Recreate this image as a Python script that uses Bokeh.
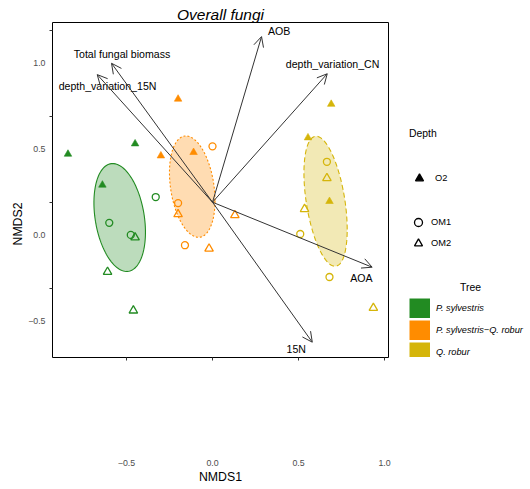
import numpy as np
import pandas as pd
from bokeh.plotting import figure
from bokeh.layouts import row
from bokeh.models import (ColumnDataSource, Range1d, LinearAxis, FixedTicker, Arrow,
                          OpenHead, Legend, LegendItem, Label, Title,
                          CustomLabelingPolicy)
from bokeh.core.properties import value
from bokeh.embed import file_html
from bokeh.resources import INLINE

FONT = "Liberation Sans"

# ---------------------------------------------------------------- data ----
TREES = ["P. sylvestris", "P. sylvestris\u2212Q. robur", "Q. robur"]
DEPTHS = ["O2", "OM1", "OM2"]

# NMDS site scores
tree = [TREES[0]] * 9 + [TREES[1]] * 9 + [TREES[2]] * 9
depth = (["O2"] * 3 + ["OM1"] * 3 + ["OM2"] * 3) * 3
nmds1 = [-0.84, -0.45, -0.64, -0.33, -0.60, -0.475, -0.45, -0.61, -0.46,
         -0.20, -0.30, -0.11, 0.00, -0.20, -0.16, -0.20, -0.02, 0.13,
         0.69, 0.555, 0.68, 0.665, 0.51, 0.68, 0.665, 0.535, 0.935]
nmds2 = [0.28, 0.34, 0.10, 0.03, -0.12, -0.19, -0.205, -0.405, -0.63,
         0.60, 0.27, 0.29, 0.325, -0.005, -0.25, -0.07, -0.27, -0.075,
         0.57, 0.375, 0.005, 0.235, -0.185, -0.435, 0.14, -0.04, -0.615]

# fitted environmental vectors (arrow tips) and where their names go
vec_names = ["AOB", "depth_variation_CN", "Total fungal biomass",
             "depth_variation_15N", "AOA", "15N"]
vec_x = [0.285, 0.667, -0.587, -0.670, 0.928, 0.580]
vec_y = [0.963, 0.747, 0.808, 0.742, -0.378, -0.814]
vec_label_x = [0.387, 0.698, -0.526, -0.610, 0.866, 0.487]
vec_label_y = [0.993, 0.805, 0.863, 0.674, -0.440, -0.856]

x_ticks = [-0.5, 0.0, 0.5, 1.0]
x_tick_labels = ["\u22120.5", "0.0", "0.5", "1.0"]
y_ticks = [-0.5, 0.0, 0.5, 1.0]
y_tick_labels = ["\u22120.5", "0.0", "0.5", "1.0"]

# --------------------------------------------------------------- style ----
tree_color = {TREES[0]: "#228B22", TREES[1]: "#FF8C00", TREES[2]: "#D5B50A"}
tree_dash = {TREES[0]: "solid", TREES[1]: "2 2", TREES[2]: "5 3"}
depth_marker = {"O2": "triangle", "OM1": "circle", "OM2": "triangle"}
depth_fill = {"O2": 1.0, "OM1": 0.0, "OM2": 0.0}
depth_size = {"O2": 7.5, "OM1": 7.0, "OM2": 8.5}
depth_lw = {"O2": 0.6, "OM1": 1.3, "OM2": 1.3}
ARROW_COLOR = "#333333"
AXIS_TEXT = "#4d4d4d"

PLOT_W, LEGEND_W, HEIGHT = 392, 138, 489
BORDER_TOP, BORDER_BOTTOM = 22, 132
X_RANGE = (-0.930, 1.023)
Y_RANGE = (-0.903, 1.045)
tick_label_drop = 0.188   # y tick labels are printed a little below their ticks

df = pd.DataFrame(dict(x=nmds1, y=nmds2, tree=tree, depth=depth))
df["color"] = df.tree.map(tree_color)
df["marker"] = df.depth.map(depth_marker)
df["fill_alpha"] = df.depth.map(depth_fill)
df["size"] = df.depth.map(depth_size)
df["lw"] = df.depth.map(depth_lw)

# ============================================================ ordination ====
p = figure(width=PLOT_W, height=HEIGHT,
           x_range=Range1d(*X_RANGE), y_range=Range1d(*Y_RANGE),
           output_backend="svg", toolbar_location=None,
           min_border_left=52, min_border_right=4,
           min_border_top=BORDER_TOP, min_border_bottom=BORDER_BOTTOM,
           background_fill_color="white", border_fill_color="white")
p.grid.visible = False
p.outline_line_color = "black"
p.outline_line_width = 1

p.title.text = "Overall fungi"
p.title.align = "center"
p.title.text_font = FONT
p.title.text_font_size = "15.5px"
p.title.text_font_style = "italic"
p.title.text_color = "black"
if "standoff" in Title.properties():
    p.title.standoff = 0

# x axis
xa = p.xaxis[0]
xa.ticker = FixedTicker(ticks=x_ticks)
xa.major_label_overrides = dict(zip(x_ticks, x_tick_labels))
xa.axis_line_color = None
xa.major_tick_out = 3
xa.major_tick_in = 0
xa.major_tick_line_color = "#333333"
xa.minor_tick_line_color = None
xa.major_label_standoff = 99
xa.major_label_text_font = FONT
xa.major_label_text_font_size = "8.8px"
xa.major_label_text_color = AXIS_TEXT
xa.axis_label = "NMDS1"
xa.axis_label_standoff = 1
xa.axis_label_text_font = FONT
xa.axis_label_text_font_size = "12.3px"
xa.axis_label_text_font_style = "normal"
xa.axis_label_text_color = "black"

# y axis: tick marks only, on the frame
ya = p.yaxis[0]
ya.ticker = FixedTicker(ticks=y_ticks)
ya.axis_line_color = None
ya.major_tick_out = 3
ya.major_tick_in = 0
ya.major_tick_line_color = "#333333"
ya.minor_tick_line_color = None
ya.major_label_text_font_size = "0px"
ya.major_label_standoff = 0
ya.major_label_policy = CustomLabelingPolicy(
    code="for (let i = 0; i < indices.size; i++) { indices.unset(i) }\nreturn indices")

# y axis: tick labels
p.extra_y_ranges = {"ticklabels": Range1d(Y_RANGE[0] + tick_label_drop,
                                          Y_RANGE[1] + tick_label_drop)}
ylab = LinearAxis(y_range_name="ticklabels", ticker=FixedTicker(ticks=y_ticks),
                  major_label_overrides=dict(zip(y_ticks, y_tick_labels)),
                  axis_line_color=None, major_tick_line_color=None,
                  minor_tick_line_color=None, major_tick_out=0, major_tick_in=0,
                  major_label_standoff=4, major_label_text_font=FONT,
                  major_label_text_font_size="8.8px",
                  major_label_text_color=AXIS_TEXT)
p.add_layout(ylab, "left")

ytitle_kw = dict(text="NMDS2", align="left", offset=112, text_font=FONT,
                 text_font_size="12.3px", text_font_style="normal",
                 text_color="black")
if "standoff" in Title.properties():
    ytitle_kw["standoff"] = 1
p.add_layout(Title(**ytitle_kw), "left")

# 1-SD covariance ellipses per tree type
theta = np.linspace(0, 2 * np.pi, 120)
circle = np.vstack([np.cos(theta), np.sin(theta)])
for t in TREES:
    pts = df.loc[df.tree == t, ["x", "y"]].to_numpy()
    centre = pts.mean(axis=0)
    chol = np.linalg.cholesky(np.cov(pts.T))
    ring = centre[:, None] + chol @ circle
    p.patch(ring[0], ring[1], fill_color=tree_color[t], fill_alpha=0.3,
            line_color=tree_color[t], line_width=1.1, line_dash=tree_dash[t])

# sites
p.scatter(x="x", y="y", marker="marker", size="size", line_color="color",
          fill_color="color", fill_alpha="fill_alpha", line_width="lw",
          source=ColumnDataSource(df))

# environmental vectors
vec_src = ColumnDataSource(dict(x0=[0.0] * len(vec_x), y0=[0.0] * len(vec_y),
                                x1=vec_x, y1=vec_y))
p.add_layout(Arrow(end=OpenHead(size=10, line_color=ARROW_COLOR, line_width=1),
                   source=vec_src, x_start="x0", y_start="y0",
                   x_end="x1", y_end="y1",
                   line_color=ARROW_COLOR, line_width=1))
p.text(x="x", y="y", text="name",
       source=ColumnDataSource(dict(x=vec_label_x, y=vec_label_y, name=vec_names)),
       text_font=value(FONT), text_font_size=value("10.6px"),
       text_color="black", text_align="center", text_baseline="middle")

# ================================================================ legend ====
# bare side panel; its frame lines up with the ordination frame, and its
# ranges count pixels (x from the panel's left edge, y up from the page bottom)
q = figure(width=LEGEND_W, height=HEIGHT, x_range=Range1d(0, LEGEND_W),
           y_range=Range1d(BORDER_BOTTOM, HEIGHT - BORDER_TOP),
           x_axis_type=None, y_axis_type=None,
           output_backend="svg", toolbar_location=None,
           min_border_left=0, min_border_right=0,
           min_border_top=BORDER_TOP, min_border_bottom=BORDER_BOTTOM,
           outline_line_color=None,
           background_fill_color="white", border_fill_color="white")
q.grid.visible = False

# key glyphs: one point each, parked outside the panel's ranges
OFF = -1000
depth_keys = {}
for d in DEPTHS:
    depth_keys[d] = q.scatter(x=[OFF], y=[OFF], marker=depth_marker[d],
                              fill_color="black", fill_alpha=depth_fill[d],
                              line_color="black", line_width=1.3)
# a thick butt-capped stroke fills the whole key box: a solid colour swatch
SWATCH_H = 20
tree_keys = {}
for t in TREES:
    tree_keys[t] = q.line(x=[OFF, OFF + 1], y=[OFF, OFF], line_color=tree_color[t],
                          line_width=SWATCH_H, line_cap="butt")

common = dict(border_line_color=None, background_fill_alpha=0, padding=0,
              margin=0, label_text_font=FONT, label_text_color="black",
              title_text_font=FONT, title_text_font_size="10.4px",
              title_text_font_style="normal", title_text_color="black")

leg_o2 = Legend(items=[LegendItem(label="O2", renderers=[depth_keys["O2"]])],
                title="Depth", title_standoff=29, location=(17, 169),
                glyph_width=20, glyph_height=20, label_height=20,
                label_standoff=6, label_text_font_size="9.3px", **common)
leg_om = Legend(items=[LegendItem(label=d, renderers=[depth_keys[d]]) for d in ["OM1", "OM2"]],
                location=(16, 104), spacing=1,
                glyph_width=20, glyph_height=20, label_height=20,
                label_standoff=3, label_text_font_size="9.3px", **common)
leg_tree = Legend(items=[LegendItem(label=t, renderers=[tree_keys[t]]) for t in TREES],
                  location=(17, -5), spacing=2,
                  glyph_width=21, glyph_height=SWATCH_H, label_height=SWATCH_H,
                  label_standoff=6, label_text_font_size="9.2px",
                  label_text_font_style="italic", **common)

for leg in (leg_o2, leg_om, leg_tree):
    q.add_layout(leg)

q.add_layout(Label(x=78, y=202, text="Tree", text_align="center",
                   text_baseline="middle", text_font=FONT,
                   text_font_size="10.4px", text_color="black"))

layout = row(p, q)
open("out.html", "w").write(file_html(layout, INLINE))
